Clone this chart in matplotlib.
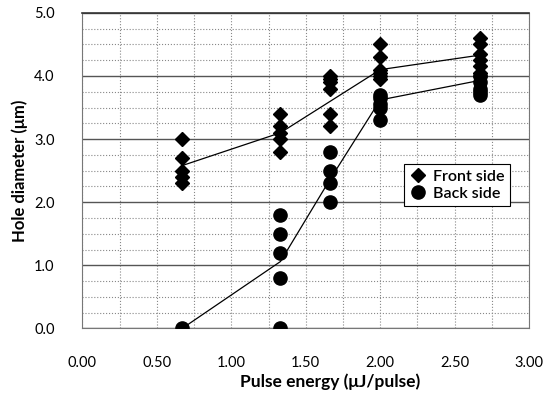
import matplotlib.pyplot as plt
from matplotlib.ticker import MultipleLocator

plt.rcParams['font.family'] = ['Lato', 'DejaVu Sans']

# Datos
front_x = [0.67] * 5 + [1.33] * 5 + [1.66] * 6 + [2.0] * 6 + [2.67] * 7
front_y = [3.0, 2.7, 2.5, 2.4, 2.3,
           3.4, 3.2, 3.1, 3.0, 2.8,
           4.0, 3.95, 3.9, 3.8, 3.4, 3.2,
           4.5, 4.3, 4.1, 4.05, 4.0, 3.95,
           4.6, 4.5, 4.35, 4.25, 4.15, 4.05, 4.0]

back_x = [0.67] + [1.33] * 5 + [1.66] * 4 + [2.0] * 5 + [2.67] * 5
back_y = [0.0,
          0.0, 0.8, 1.2, 1.5, 1.8,
          2.8, 2.5, 2.3, 2.0,
          3.7, 3.65, 3.55, 3.5, 3.3,
          4.0, 3.9, 3.8, 3.75, 3.7]

front_line_x = [0.67, 1.33, 2.0, 2.67]
front_line_y = [2.58, 3.1, 4.1, 4.33]
back_line_x = [0.67, 1.33, 1.66, 2.0, 2.67]
back_line_y = [0.0, 1.06, 2.35, 3.62, 3.93]

fig, ax = plt.subplots(figsize=(5.57, 4.01), dpi=100)
fig.subplots_adjust(left=0.148, right=0.950, top=0.968, bottom=0.181)

ax.plot(front_line_x, front_line_y, color='black', lw=0.9, zorder=2)
ax.plot(back_line_x, back_line_y, color='black', lw=0.9, zorder=2)
ax.plot(front_x, front_y, 'D', color='black', ms=7, ls='none',
        label='Front side', zorder=3)
ax.plot(back_x, back_y, 'o', color='black', ms=9.5, ls='none',
        label='Back side', zorder=3)

ax.set_xlim(0, 3)
ax.set_ylim(0, 5)
ax.xaxis.set_major_locator(MultipleLocator(0.5))
ax.xaxis.set_minor_locator(MultipleLocator(0.25))
ax.yaxis.set_major_locator(MultipleLocator(1.0))
ax.yaxis.set_minor_locator(MultipleLocator(0.25))
ax.xaxis.set_major_formatter('{x:.2f}')
ax.yaxis.set_major_formatter('{x:.1f}')

ax.grid(which='major', axis='y', color='#555555', lw=1.0, ls='-')
ax.grid(which='major', axis='x', color='#888888', lw=0.8, ls=':')
ax.grid(which='minor', color='#888888', lw=0.8, ls=':')
ax.set_axisbelow(True)
ax.tick_params(which='both', length=0)
ax.tick_params(axis='x', pad=20, labelsize=10.5)
ax.tick_params(axis='y', pad=20, labelsize=10.5)

for s in ax.spines.values():
    s.set_color('#777777')
    s.set_linewidth(0.8)
ax.spines['top'].set_color('#333333')
ax.spines['top'].set_linewidth(1.2)

ax.set_xlabel('Pulse energy (\u03bcJ/pulse)', fontsize=12.5, fontweight='bold',
              x=0.555, labelpad=2)
ax.set_ylabel('Hole diameter (\u03bcm)', fontsize=12, fontweight='bold', labelpad=4)

leg = ax.legend(loc='upper left', bbox_to_anchor=(0.72, 0.52), frameon=True,
                fancybox=False, edgecolor='black', framealpha=1,
                fontsize=11.5, handletextpad=0.45, borderpad=0.35,
                labelspacing=0.15, handlelength=1.0, borderaxespad=0)
leg.get_frame().set_linewidth(0.8)
for t in leg.get_texts():
    t.set_fontweight('semibold')

plt.savefig('out.png')
